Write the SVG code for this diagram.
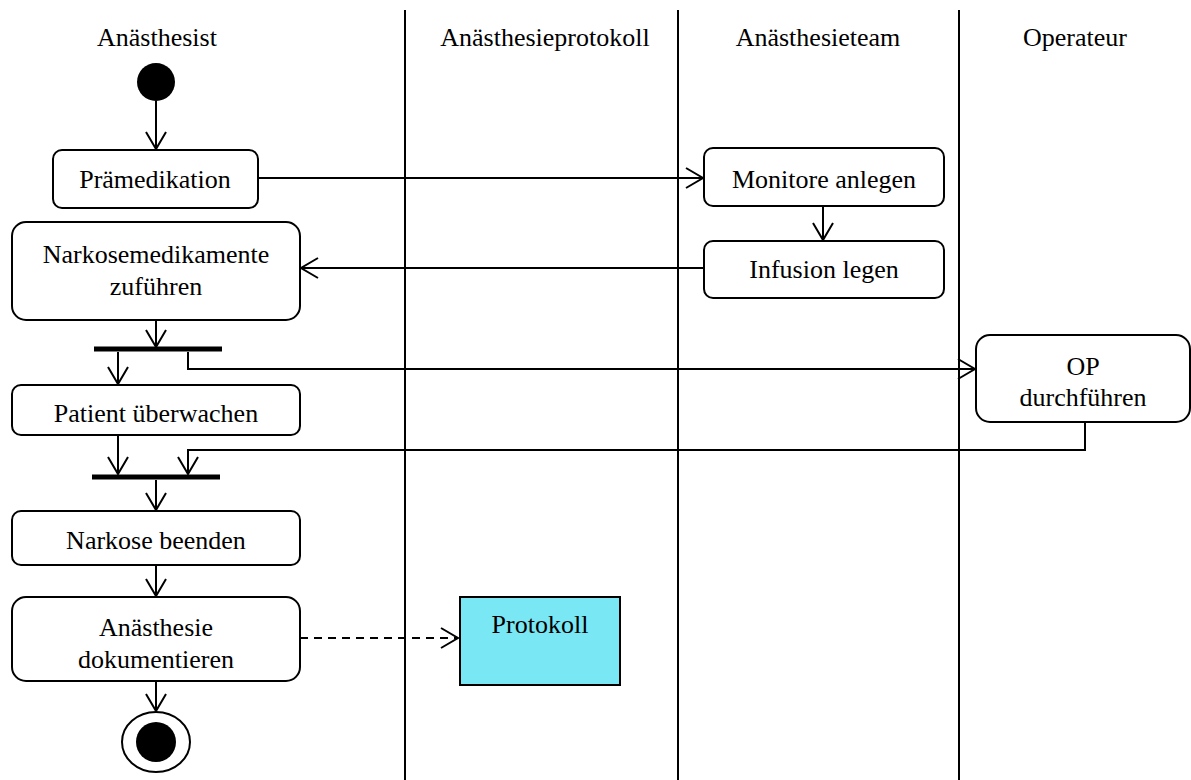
<svg xmlns="http://www.w3.org/2000/svg" width="1191" height="780" viewBox="0 0 1191 780">
  <style>
    text { font-family: "Liberation Serif", "Times New Roman", serif; font-size: 26px; fill: #000; text-anchor: middle; }
    .lane { stroke: #000; stroke-width: 2; }
    .act { fill: #fff; stroke: #000; stroke-width: 2; }
    .bar { stroke: #000; stroke-width: 5; }
    .flow { fill: none; stroke: #000; stroke-width: 2; marker-end: url(#open); }
    .flow-plain { fill: none; stroke: #000; stroke-width: 2; }
    .dep { fill: none; stroke: #000; stroke-width: 2; stroke-dasharray: 8 6; marker-end: url(#open); }
  </style>
  <defs>
    <marker id="open" viewBox="0 0 20 24" refX="18" refY="12" markerWidth="20" markerHeight="24" markerUnits="userSpaceOnUse" orient="auto">
      <path d="M1,2 L18,12 L1,22" fill="none" stroke="#000" stroke-width="2"/>
    </marker>
  </defs>
  <rect width="1191" height="780" fill="#fff"/>

  <!-- swimlanes -->
  <g id="lanes">
    <line class="lane" x1="405" y1="10" x2="405" y2="780"/>
    <line class="lane" x1="678" y1="10" x2="678" y2="780"/>
    <line class="lane" x1="959" y1="10" x2="959" y2="780"/>
    <text x="157" y="46">Anästhesist</text>
    <text x="545" y="46">Anästhesieprotokoll</text>
    <text x="818" y="46">Anästhesieteam</text>
    <text x="1075" y="46">Operateur</text>
  </g>

  <!-- control and object flows -->
  <g id="connectors">
    <line class="flow" x1="156" y1="101" x2="156" y2="149"/>
    <line class="flow" x1="258" y1="178" x2="703" y2="178"/>
    <line class="flow" x1="823" y1="206" x2="823" y2="240"/>
    <line class="flow" x1="704" y1="268" x2="301" y2="268"/>
    <line class="flow" x1="156" y1="320" x2="156" y2="347"/>
    <line class="flow" x1="118" y1="352" x2="118" y2="384"/>
    <polyline class="flow" points="188,352 188,369 975,369"/>
    <line class="flow" x1="118" y1="435" x2="118" y2="474"/>
    <polyline class="flow" points="1085,422 1085,450 188,450 188,474"/>
    <line class="flow" x1="156" y1="480" x2="156" y2="510"/>
    <line class="flow" x1="156" y1="565" x2="156" y2="596"/>
    <line class="dep" x1="300" y1="638" x2="458" y2="638"/>
    <line class="flow" x1="156" y1="681" x2="156" y2="711"/>
  </g>

  <g id="start">
    <circle cx="156" cy="82" r="19" fill="#000"/>
  </g>

  <g id="praemedikation">
    <rect class="act" x="53" y="150" width="205" height="58" rx="9"/>
    <text x="155" y="188">Prämedikation</text>
  </g>

  <g id="narkosemedikamente">
    <rect class="act" x="12" y="222" width="288" height="98" rx="14"/>
    <text x="156" y="263">Narkosemedikamente</text>
    <text x="156" y="295">zuführen</text>
  </g>

  <g id="monitore">
    <rect class="act" x="704" y="148" width="240" height="58" rx="9"/>
    <text x="824" y="188">Monitore anlegen</text>
  </g>

  <g id="infusion">
    <rect class="act" x="704" y="241" width="240" height="57" rx="9"/>
    <text x="824" y="278">Infusion legen</text>
  </g>

  <g id="fork">
    <line class="bar" x1="94" y1="349" x2="222" y2="349"/>
  </g>

  <g id="op">
    <rect class="act" x="976" y="335" width="214" height="87" rx="14"/>
    <text x="1083" y="375">OP</text>
    <text x="1083" y="406">durchführen</text>
  </g>

  <g id="patient">
    <rect class="act" x="12" y="385" width="288" height="50" rx="9"/>
    <text x="156" y="422">Patient überwachen</text>
  </g>

  <g id="join">
    <line class="bar" x1="92" y1="477" x2="220" y2="477"/>
  </g>

  <g id="narkose-beenden">
    <rect class="act" x="12" y="511" width="288" height="54" rx="9"/>
    <text x="156" y="549">Narkose beenden</text>
  </g>

  <g id="dokumentieren">
    <rect class="act" x="12" y="597" width="288" height="84" rx="14"/>
    <text x="156" y="636">Anästhesie</text>
    <text x="156" y="668">dokumentieren</text>
  </g>

  <g id="protokoll">
    <rect x="460" y="597" width="160" height="88" fill="#7AE7F5" stroke="#000" stroke-width="2"/>
    <text x="540" y="633">Protokoll</text>
  </g>

  <g id="end">
    <ellipse cx="156" cy="742" rx="34" ry="30" fill="#fff" stroke="#000" stroke-width="2"/>
    <circle cx="156" cy="742" r="20" fill="#000"/>
  </g>
</svg>
